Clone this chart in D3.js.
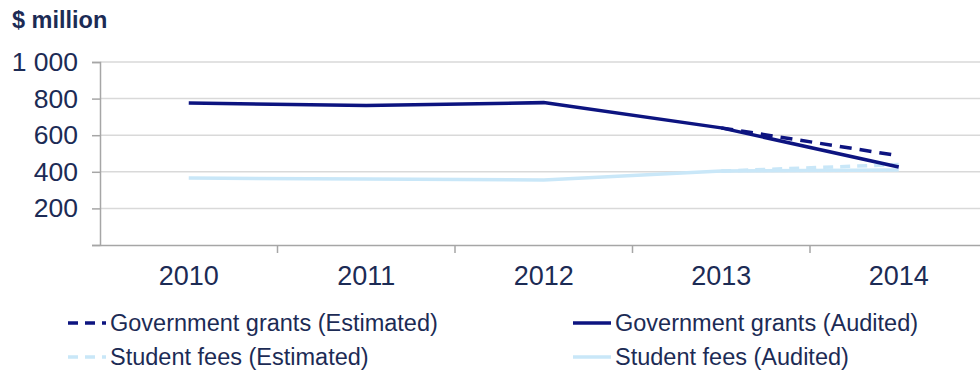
<!DOCTYPE html>
<html>
<head>
<meta charset="utf-8">
<script src="https://cdn.jsdelivr.net/npm/d3@7"></script>
<style>
  body { margin: 0; background: #fff; }
  text { font-family: "Liberation Sans", Arial, sans-serif; fill: #1c2b55; }
</style>
</head>
<body>
<script>
const years = ["2010", "2011", "2012", "2013", "2014"];
const yTicks = [200, 400, 600, 800, 1000];
const grantsAudited = [776, 762, 778, 640, 426];
const grantsEstimated = [null, null, null, 640, 488];
const feesAudited = [366, 360, 355, 404, 410];
const feesEstimated = [null, null, null, 404, 440];

const width = 980;
const height = 371;
const navy = "#0d1480";
const light = "#c9e7f8";

const svg = d3.select("body").append("svg")
  .attr("width", width)
  .attr("height", height);

const x = d3.scaleBand().domain(years).range([100, 987.5]);
const y = d3.scaleLinear().domain([0, 1000]).range([245, 62]);

// gridlines
svg.append("g")
  .selectAll("line")
  .data(yTicks)
  .enter()
  .append("line")
  .attr("x1", 100).attr("x2", width)
  .attr("y1", (d) => y(d)).attr("y2", (d) => y(d))
  .attr("stroke", "#d9d9d9")
  .attr("stroke-width", 1.5);

// y axis
const yAxis = d3.axisLeft(y)
  .tickValues([0].concat(yTicks))
  .tickSize(8)
  .tickFormat((d) => d === 0 ? "" : d3.format(",")(d).replace(",", " "));

const gy = svg.append("g")
  .attr("transform", "translate(100,0)")
  .call(yAxis);
gy.select(".domain").attr("stroke", "#a6a6a6").attr("stroke-width", 1.5);
gy.selectAll(".tick line").attr("stroke", "#a6a6a6").attr("stroke-width", 1.5);
gy.selectAll(".tick text")
  .attr("x", -22)
  .style("font-size", "26.5px")
  .style("fill", "#1c2b55");

// x axis
const xAxis = d3.axisBottom(x).tickSize(0).tickSizeOuter(0);
const gx = svg.append("g")
  .attr("transform", "translate(0,245)")
  .call(xAxis);
gx.select(".domain").attr("stroke", "#a6a6a6").attr("stroke-width", 1.5);
gx.selectAll(".tick text")
  .attr("y", 21)
  .style("font-size", "27px")
  .style("fill", "#1c2b55");

// category boundary ticks
svg.append("g")
  .selectAll("line")
  .data(years.slice(1))
  .enter()
  .append("line")
  .attr("x1", (d) => x(d)).attr("x2", (d) => x(d))
  .attr("y1", 245).attr("y2", 253)
  .attr("stroke", "#a6a6a6")
  .attr("stroke-width", 1.5);

const cx = (i) => x(years[i]) + x.bandwidth() / 2;
const line = d3.line()
  .defined((d) => d !== null)
  .x((d, i) => cx(i))
  .y((d) => y(d));

const series = [
  { name: "Student fees (Estimated)", data: feesEstimated, color: light, dash: "10,7" },
  { name: "Student fees (Audited)", data: feesAudited, color: light, dash: null },
  { name: "Government grants (Estimated)", data: grantsEstimated, color: navy, dash: "12,8" },
  { name: "Government grants (Audited)", data: grantsAudited, color: navy, dash: null },
];

svg.append("g")
  .selectAll("path")
  .data(series)
  .enter()
  .append("path")
  .attr("d", (d) => line(d.data))
  .attr("fill", "none")
  .attr("stroke", (d) => d.color)
  .attr("stroke-width", 3.5)
  .attr("stroke-dasharray", (d) => d.dash);

// title
svg.append("text")
  .attr("x", 12)
  .attr("y", 28)
  .style("font-size", "23.5px")
  .style("font-weight", "bold")
  .text("$ million");

// legend
const legendItems = [
  { name: "Government grants (Estimated)", color: navy, dash: "10,7", lx: 68, ly: 323 },
  { name: "Government grants (Audited)", color: navy, dash: null, lx: 573, ly: 323 },
  { name: "Student fees (Estimated)", color: light, dash: "10,7", lx: 68, ly: 357 },
  { name: "Student fees (Audited)", color: light, dash: null, lx: 573, ly: 357 },
];

const legend = svg.append("g").selectAll("g")
  .data(legendItems)
  .enter()
  .append("g")
  .attr("transform", (d) => `translate(${d.lx},${d.ly})`);

legend.append("line")
  .attr("x1", 0).attr("x2", 38)
  .attr("y1", 0).attr("y2", 0)
  .attr("stroke", (d) => d.color)
  .attr("stroke-width", 3.5)
  .attr("stroke-dasharray", (d) => d.dash);

legend.append("text")
  .attr("x", 42)
  .attr("y", 8)
  .style("font-size", "23.5px")
  .text((d) => d.name);
</script>
</body>
</html>
